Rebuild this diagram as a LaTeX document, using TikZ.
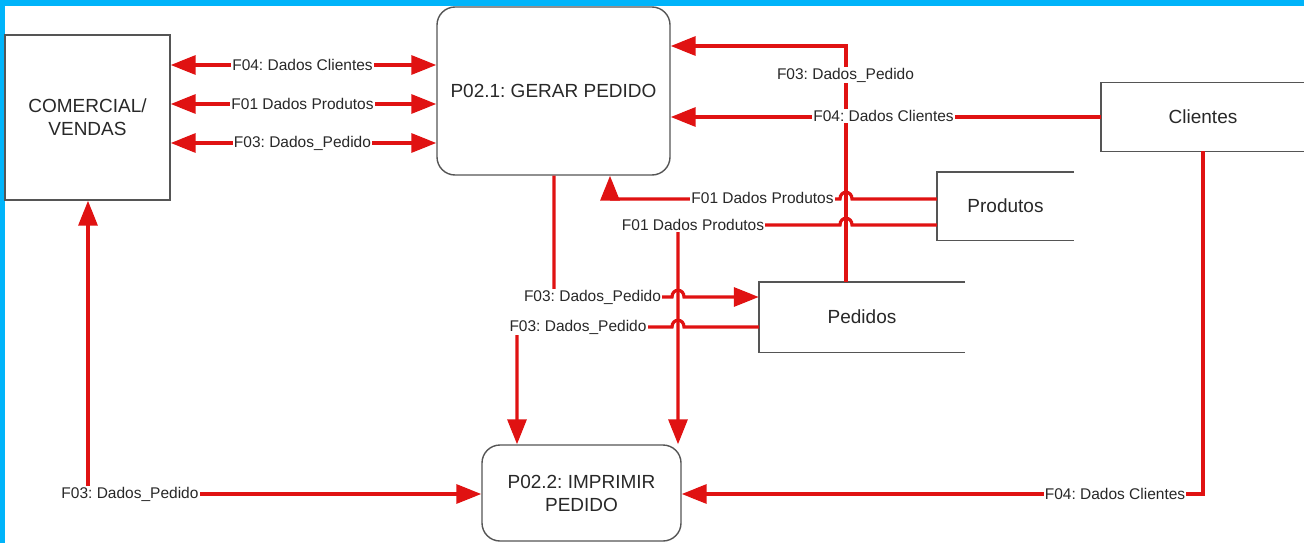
\documentclass[tikz,border=0pt]{standalone}
\usepackage{fontspec}
\setmainfont{Liberation Sans}
\usetikzlibrary{arrows.meta}
\definecolor{cyanb}{RGB}{0,180,250}
\definecolor{fl}{RGB}{224,18,18}
\definecolor{bx}{RGB}{85,85,85}
\definecolor{tx}{RGB}{40,40,40}
\frenchspacing
\begin{document}
\begin{tikzpicture}[x=1pt,y=-1pt,
  box/.style={draw=bx, line width=1.4pt, fill=white, text=tx, font=\fontsize{19}{23}\selectfont, align=center, inner sep=0pt},
  proc/.style={box, rounded corners=18pt},
  store/.style={inner sep=0pt, text=tx, font=\fontsize{19}{23}\selectfont},
  stline/.style={draw=bx, line width=1.4pt},
  flow/.style={draw=fl, line width=3.2pt, -{Triangle[length=25pt,width=19pt]}},
  bflow/.style={draw=fl, line width=3.2pt, {Triangle[length=25pt,width=19pt]}-{Triangle[length=25pt,width=19pt]}},
  lbl/.style={fill=white, text=tx, inner sep=1pt, font=\fontsize{15.5}{18}\selectfont}
]
\useasboundingbox (0,0) rectangle (1304,543);
\fill[white] (0,0) rectangle (1304,543);
\fill[cyanb] (0,0) rectangle (1304,6);
\fill[cyanb] (0,0) rectangle (5,543);

% nodes
\node[box, minimum width=165pt, minimum height=165pt] (com) at (87.5,117.5) {COMERCIAL/\\VENDAS};
\node[proc, minimum width=233pt, minimum height=168pt] (gerar) at (553.5,91) {P02.1: GERAR PEDIDO};
\node[proc, minimum width=199pt, minimum height=96pt] (impr) at (581.5,493) {P02.2: IMPRIMIR\\PEDIDO};
\node[store, minimum width=204pt, minimum height=68pt] (cli) at (1203,117) {Clientes};
\node[store, minimum width=137pt, minimum height=68pt] (prod) at (1005.5,206) {Produtos};
\node[store, minimum width=206pt, minimum height=70pt] (ped) at (862,317) {Pedidos};
\draw[stline] (cli.north east) -- (cli.north west) -- (cli.south west) -- (cli.south east);
\draw[stline] (prod.north east) -- (prod.north west) -- (prod.south west) -- (prod.south east);
\draw[stline] (ped.north east) -- (ped.north west) -- (ped.south west) -- (ped.south east);

% helper coordinates
\coordinate (h1) at (300,65);
\coordinate (h2) at (300,104);
\coordinate (h3) at (300,143);
\coordinate (k1) at (846,46);
\coordinate (k2) at (610,199);
\coordinate (k3) at (678,225);
\coordinate (k4) at (554,297);
\coordinate (k5) at (517,327);
\coordinate (k6) at (1203,494);
\coordinate (k7) at (88,494);

% connectors
\draw[bflow] (com.east |- h1) -- (gerar.west |- h1);
\draw[bflow] (com.east |- h2) -- (gerar.west |- h2);
\draw[bflow] (com.east |- h3) -- (gerar.west |- h3);
\draw[flow] (ped.north -| k1) -- (k1) -- (gerar.east |- k1);
\draw[flow] (cli.west) -- (gerar.east |- cli.west);
\draw[flow] (prod.west |- k2) -- (852,199) .. controls (852,190) and (840,190) .. (840,199) -- (k2) -- (gerar.south -| k2);
\draw[flow] (prod.west |- k3) -- (852,225) .. controls (852,216) and (840,216) .. (840,225) -- (k3) -- (impr.north -| k3);
\draw[flow] (gerar.south -| k4) -- (k4) -- (672,297) .. controls (672,288) and (684,288) .. (684,297) -- (ped.west |- k4);
\draw[flow] (ped.west |- k5) -- (684,327) .. controls (684,318) and (672,318) .. (672,327) -- (k5) -- (impr.north -| k5);
\draw[flow] (cli.south) -- (k6) -- (impr.east |- k6);
\draw[bflow] (com.south -| k7) -- (k7) -- (impr.west |- k7);

% labels
\node[lbl] (l1) at (302.5,65) {F04: Dados Clientes};
\node[lbl] (l2) at (302.5,104) {F01 Dados Produtos};
\node[lbl] (l3) at (302.5,143) {F03: Dados\_Pedido};
\node[lbl] (l4) at (845.5,75) {F03: Dados\_Pedido};
\node[lbl] (l5) at (883.5,116) {F04: Dados Clientes};
\node[lbl] (l6) at (762.5,198) {F01 Dados Produtos};
\node[lbl] (l7) at (693,225) {F01 Dados Produtos};
\node[lbl] (l8) at (592.5,297) {F03: Dados\_Pedido};
\node[lbl] (l9) at (578,327) {F03: Dados\_Pedido};
\node[lbl] (l10) at (1115,494) {F04: Dados Clientes};
\node[lbl] (l11) at (130,494) {F03: Dados\_Pedido};
\end{tikzpicture}
\end{document}
